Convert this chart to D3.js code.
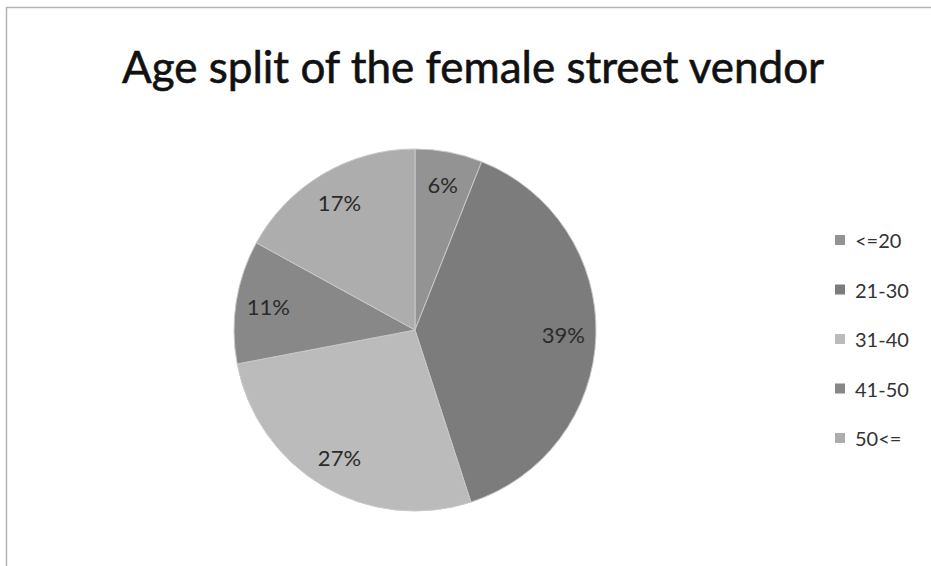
<!DOCTYPE html>
<html><head><meta charset="utf-8">
<script src="https://cdn.jsdelivr.net/npm/d3@7"></script>
<style>body{margin:0;background:#fff}svg{display:block}</style>
</head><body>
<svg id="c" width="931" height="566"></svg>
<script>
const title = "Age split of the female street vendor";
const categories = ["<=20", "21-30", "31-40", "41-50", "50<="];
const values = [6, 39, 27, 11, 17];
const colors = ["#939393", "#7c7c7c", "#bbbbbb", "#888888", "#adadad"];

const svg = d3.select("#c");
// frame
svg.append("path").attr("d", "M6.5,566 L6.5,7.5 L931,7.5")
  .attr("fill", "none").attr("stroke", "#b4b4b4").attr("stroke-width", 1.5);

svg.append("text").attr("x", 473).attr("y", 83).attr("text-anchor", "middle")
  .attr("font-family", "Lato, 'Open Sans', sans-serif").attr("font-size", 44)
  .attr("font-weight", 400).attr("stroke", "#111").attr("stroke-width", 0.6)
  .attr("fill", "#111").text(title);

const cx = 415, cy = 330, R = 181;
const pie = d3.pie().sort(null).value(d => d)(values);
const arc = d3.arc().innerRadius(0).outerRadius(R);
const labelArc = d3.arc().innerRadius(R * 0.82).outerRadius(R * 0.82);
const g = svg.append("g").attr("transform", `translate(${cx},${cy})`);
g.selectAll("path").data(pie).join("path")
  .attr("d", arc).attr("fill", (d, i) => colors[i])
  .attr("stroke", "#c8c8c8").attr("stroke-width", 1);
const total = d3.sum(values);
g.selectAll("text").data(pie).join("text")
  .attr("transform", d => `translate(${labelArc.centroid(d)})`)
  .attr("text-anchor", "middle").attr("dominant-baseline", "central")
  .attr("font-family", "Lato, 'Open Sans', sans-serif").attr("font-size", 22)
  .attr("fill", "#2a2a2a")
  .text(d => Math.round(d.data / total * 100) + "%");

const ly = d3.scalePoint().domain(categories).range([240, 438]);
const leg = svg.append("g");
categories.forEach((c, i) => {
  leg.append("rect").attr("x", 835).attr("y", ly(c) - 5).attr("width", 10).attr("height", 10)
    .attr("fill", colors[i]);
  leg.append("text").attr("x", 855).attr("y", ly(c)).attr("dominant-baseline", "central")
    .attr("font-family", "Lato, 'Open Sans', sans-serif").attr("font-size", 20)
    .attr("fill", "#333").text(c);
});
</script>
</body></html>
